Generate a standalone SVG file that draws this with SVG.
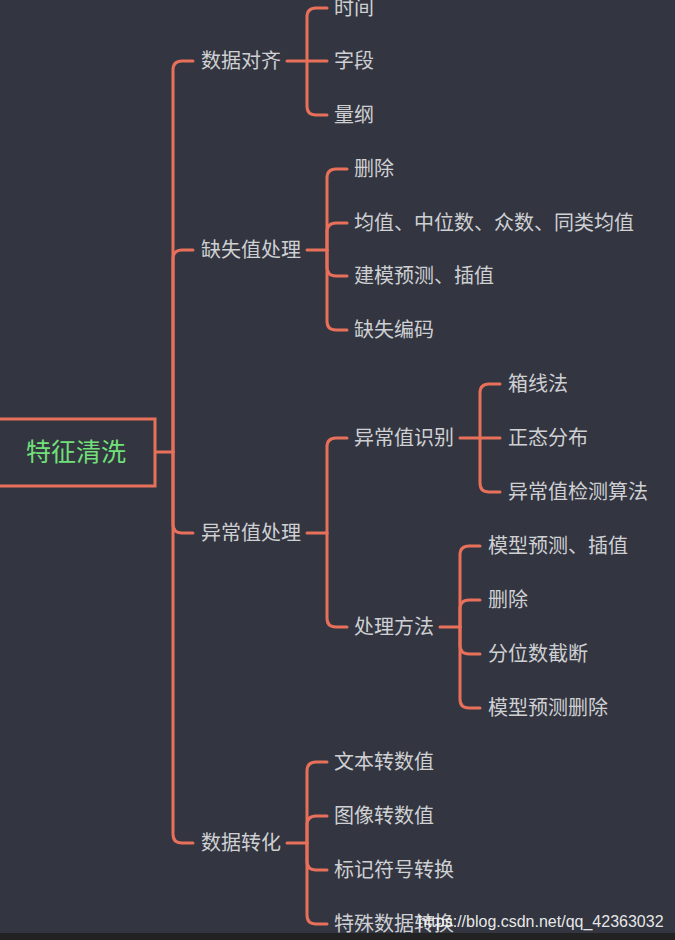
<svg xmlns="http://www.w3.org/2000/svg" width="675" height="940" viewBox="0 0 675 940">
<style>
.bg{fill:#333640}
.c{fill:none;stroke:#e8705a;stroke-width:3;stroke-linecap:round;stroke-linejoin:round}
.t{font-family:"Noto Sans CJK SC","Noto Sans",sans-serif;font-size:20px;fill:#cfd0d4;dominant-baseline:central}
.root{font-family:"Noto Sans CJK SC","Noto Sans",sans-serif;font-size:25px;fill:#72e07a;dominant-baseline:central;text-anchor:middle}
.wm{font-family:"Liberation Sans",Arial,sans-serif;font-size:16px;fill:#ffffff;fill-opacity:0.9}
</style>
<rect class="bg" x="0" y="0" width="675" height="940"/>
<rect x="0" y="933" width="675" height="7" fill="#222222"/>
<g id="connectors">
<path class="c" d="M155,452 H173"/>
<path class="c" d="M173,452 V70 Q173,61 182,61 H193"/>
<path class="c" d="M173,452 V259 Q173,250 182,250 H193"/>
<path class="c" d="M173,452 V524 Q173,533 182,533 H193"/>
<path class="c" d="M173,452 V834 Q173,843 182,843 H193"/>
<path class="c" d="M287,61 H327"/>
<path class="c" d="M307,61 V17 Q307,8 316,8 H327"/>
<path class="c" d="M307,61 V106 Q307,115 316,115 H327"/>
<path class="c" d="M307,250 H327"/>
<path class="c" d="M327,250 V178 Q327,169 336,169 H347"/>
<path class="c" d="M327,250 V232 Q327,223 336,223 H347"/>
<path class="c" d="M327,250 V267 Q327,276 336,276 H347"/>
<path class="c" d="M327,250 V321 Q327,330 336,330 H347"/>
<path class="c" d="M307,533 H327"/>
<path class="c" d="M327,533 V447 Q327,438 336,438 H347"/>
<path class="c" d="M327,533 V618 Q327,627 336,627 H347"/>
<path class="c" d="M460,438 H500"/>
<path class="c" d="M480,438 V393 Q480,384 489,384 H500"/>
<path class="c" d="M480,438 V483 Q480,492 489,492 H500"/>
<path class="c" d="M440,627 H460"/>
<path class="c" d="M460,627 V555 Q460,546 469,546 H480"/>
<path class="c" d="M460,627 V609 Q460,600 469,600 H480"/>
<path class="c" d="M460,627 V645 Q460,654 469,654 H480"/>
<path class="c" d="M460,627 V699 Q460,708 469,708 H480"/>
<path class="c" d="M287,843 H307"/>
<path class="c" d="M307,843 V771 Q307,762 316,762 H327"/>
<path class="c" d="M307,843 V825 Q307,816 316,816 H327"/>
<path class="c" d="M307,843 V861 Q307,870 316,870 H327"/>
<path class="c" d="M307,843 V915 Q307,924 316,924 H327"/>
</g>
<g id="root"><rect x="-5" y="419" width="160" height="67" fill="#333640" stroke="#e8705a" stroke-width="3"/><text class="root" x="76" y="450">特征清洗</text></g>
<g id="n1"><text class="t" x="201" y="59.5">数据对齐</text></g>
<g id="n1a"><text class="t" x="334" y="6.5">时间</text></g>
<g id="n1b"><text class="t" x="334" y="59.5">字段</text></g>
<g id="n1c"><text class="t" x="334" y="113.5">量纲</text></g>
<g id="n2"><text class="t" x="201" y="248.5">缺失值处理</text></g>
<g id="n2a"><text class="t" x="354" y="167.5">删除</text></g>
<g id="n2b"><text class="t" x="354" y="221.5">均值、中位数、众数、同类均值</text></g>
<g id="n2c"><text class="t" x="354" y="274.5">建模预测、插值</text></g>
<g id="n2d"><text class="t" x="354" y="328.5">缺失编码</text></g>
<g id="n3"><text class="t" x="201" y="531.5">异常值处理</text></g>
<g id="n3a"><text class="t" x="354" y="436.5">异常值识别</text></g>
<g id="n3a1"><text class="t" x="508" y="382.5">箱线法</text></g>
<g id="n3a2"><text class="t" x="508" y="436.5">正态分布</text></g>
<g id="n3a3"><text class="t" x="508" y="490.5">异常值检测算法</text></g>
<g id="n3b"><text class="t" x="354" y="625.5">处理方法</text></g>
<g id="n3b1"><text class="t" x="488" y="544.5">模型预测、插值</text></g>
<g id="n3b2"><text class="t" x="488" y="598.5">删除</text></g>
<g id="n3b3"><text class="t" x="488" y="652.5">分位数截断</text></g>
<g id="n3b4"><text class="t" x="488" y="706.5">模型预测删除</text></g>
<g id="n4"><text class="t" x="201" y="841.5">数据转化</text></g>
<g id="n4a"><text class="t" x="334" y="760.5">文本转数值</text></g>
<g id="n4b"><text class="t" x="334" y="814.5">图像转数值</text></g>
<g id="n4c"><text class="t" x="334" y="868.5">标记符号转换</text></g>
<g id="n4d"><text class="t" x="334" y="922.5">特殊数据转换</text></g>
<text class="wm" x="418" y="927">https://blog.csdn.net/qq_42363032</text>
</svg>
